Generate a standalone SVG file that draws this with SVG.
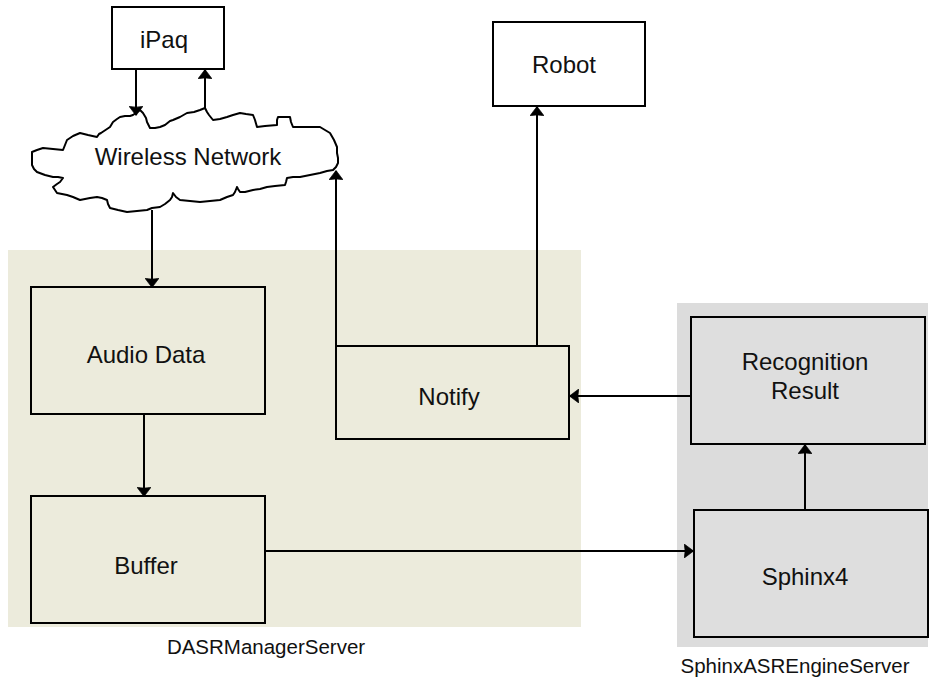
<svg xmlns="http://www.w3.org/2000/svg" width="931" height="679" viewBox="0 0 931 679">
<style>
.box{stroke:#000;stroke-width:2;}
.t{font-family:"Liberation Sans",Arial,sans-serif;font-size:24px;fill:#111;text-anchor:middle;}
.lbl{font-family:"Liberation Sans",Arial,sans-serif;font-size:20.5px;fill:#111;text-anchor:middle;}
.c{fill:none;stroke:#000;stroke-width:2;}
</style>
<defs>
<marker id="ah" viewBox="0 0 8 12" refX="7.5" refY="6" markerWidth="5" markerHeight="7" orient="auto" markerUnits="strokeWidth">
<path d="M0,0 Q1.5,6 0,12 L8,6 Z" fill="#000" stroke="#000" stroke-width="0.6" stroke-linejoin="round"/>
</marker>
</defs>
<rect width="931" height="679" fill="#fff"/>
<g id="DASRManagerServer">
<rect x="8" y="250" width="573" height="377" fill="#ecebdc"/>
<text class="lbl" x="266" y="654">DASRManagerServer</text>
</g>
<g id="SphinxASREngineServer">
<rect x="677" y="303" width="251" height="344" fill="#dcdcdc"/>
<text class="lbl" x="795" y="673">SphinxASREngineServer</text>
</g>
<g id="iPaq">
<rect class="box" x="112" y="7" width="112" height="62" fill="#fff"/>
<text class="t" x="164" y="48">iPaq</text>
</g>
<g id="Robot">
<rect class="box" x="493" y="22" width="152" height="84" fill="#fff"/>
<text class="t" x="564" y="73">Robot</text>
</g>
<g id="WirelessNetwork">
<path fill="#fff" stroke="#000" stroke-width="2" stroke-linejoin="round" d="M97,137 L99,134 L101,133 L104,131 L110,127 L113,122 L117,119 L120,117 L125,116 L130,116 L133,115 L137,112 L140,110 L143,113 L146,118 L147,122 L150,128 L155,128 L160,127 L165,125 L170,121 L173,120 L180,117 L187,113 L194,112 L200,110 L205,108 L207,112 L209,115 L213,120 L220,119 L227,117 L233,115 L240,113 L246,114 L253,115 L255,120 L257,127 L265,126 L277,125 L277,120 L278,117 L290,117 L291,122 L293,127 L305,127 L320,127 L325,130 L330,133 L334,140 L337,147 L337,153 L338,158 L338,163 L336,167 L333,170 L327,171 L320,173 L310,175 L300,177 L293,177 L287,178 L286,182 L285,185 L275,186 L267,187 L260,189 L253,190 L245,192 L240,192 L238,189 L237,187 L235,192 L233,195 L227,197 L220,200 L210,201 L200,202 L190,201 L180,200 L176,197 L173,193 L172,197 L170,200 L165,204 L160,207 L152,208 L147,210 L137,211 L127,212 L118,210 L110,208 L108,204 L107,200 L102,198 L97,197 L90,198 L85,199 L80,200 L73,197 L67,195 L62,194 L57,193 L55,190 L53,187 L57,184 L60,182 L63,178 L58,177 L53,177 L45,175 L37,172 L34,169 L32,165 L32,158 L32,152 L37,150 L43,148 L53,149 L63,150 L65,145 L67,140 L73,136 L80,133 L88,135 Z"/>
<text class="t" x="188" y="165">Wireless Network</text>
</g>
<g id="AudioData">
<rect class="box" x="31" y="287" width="234" height="127" fill="#ecebdc"/>
<text class="t" x="146" y="363">Audio Data</text>
</g>
<g id="Buffer">
<rect class="box" x="31" y="496" width="234" height="127" fill="#ecebdc"/>
<text class="t" x="146" y="574">Buffer</text>
</g>
<g id="Notify">
<rect class="box" x="336" y="346" width="233" height="93" fill="#ecebdc"/>
<text class="t" x="449" y="405">Notify</text>
</g>
<g id="RecognitionResult">
<rect class="box" x="691" y="317" width="234" height="127" fill="#dedede"/>
<text class="t" x="805" y="370">Recognition</text>
<text class="t" x="805" y="399">Result</text>
</g>
<g id="Sphinx4">
<rect class="box" x="694" y="510" width="234" height="127" fill="#dedede"/>
<text class="t" x="805" y="585">Sphinx4</text>
</g>
<g id="connectors">
<line class="c" x1="136" y1="69" x2="136" y2="115" marker-end="url(#ah)"/>
<line class="c" x1="205" y1="108" x2="205" y2="70" marker-end="url(#ah)"/>
<line class="c" x1="152" y1="210" x2="152" y2="287" marker-end="url(#ah)"/>
<line class="c" x1="144" y1="414" x2="144" y2="496" marker-end="url(#ah)"/>
<line class="c" x1="336" y1="346" x2="336" y2="171" marker-end="url(#ah)"/>
<line class="c" x1="537" y1="346" x2="537" y2="107" marker-end="url(#ah)"/>
<line class="c" x1="691" y1="396" x2="570" y2="396" marker-end="url(#ah)"/>
<line class="c" x1="805" y1="510" x2="805" y2="445" marker-end="url(#ah)"/>
<line class="c" x1="265" y1="551" x2="693" y2="551" marker-end="url(#ah)"/>
</g>
</svg>
